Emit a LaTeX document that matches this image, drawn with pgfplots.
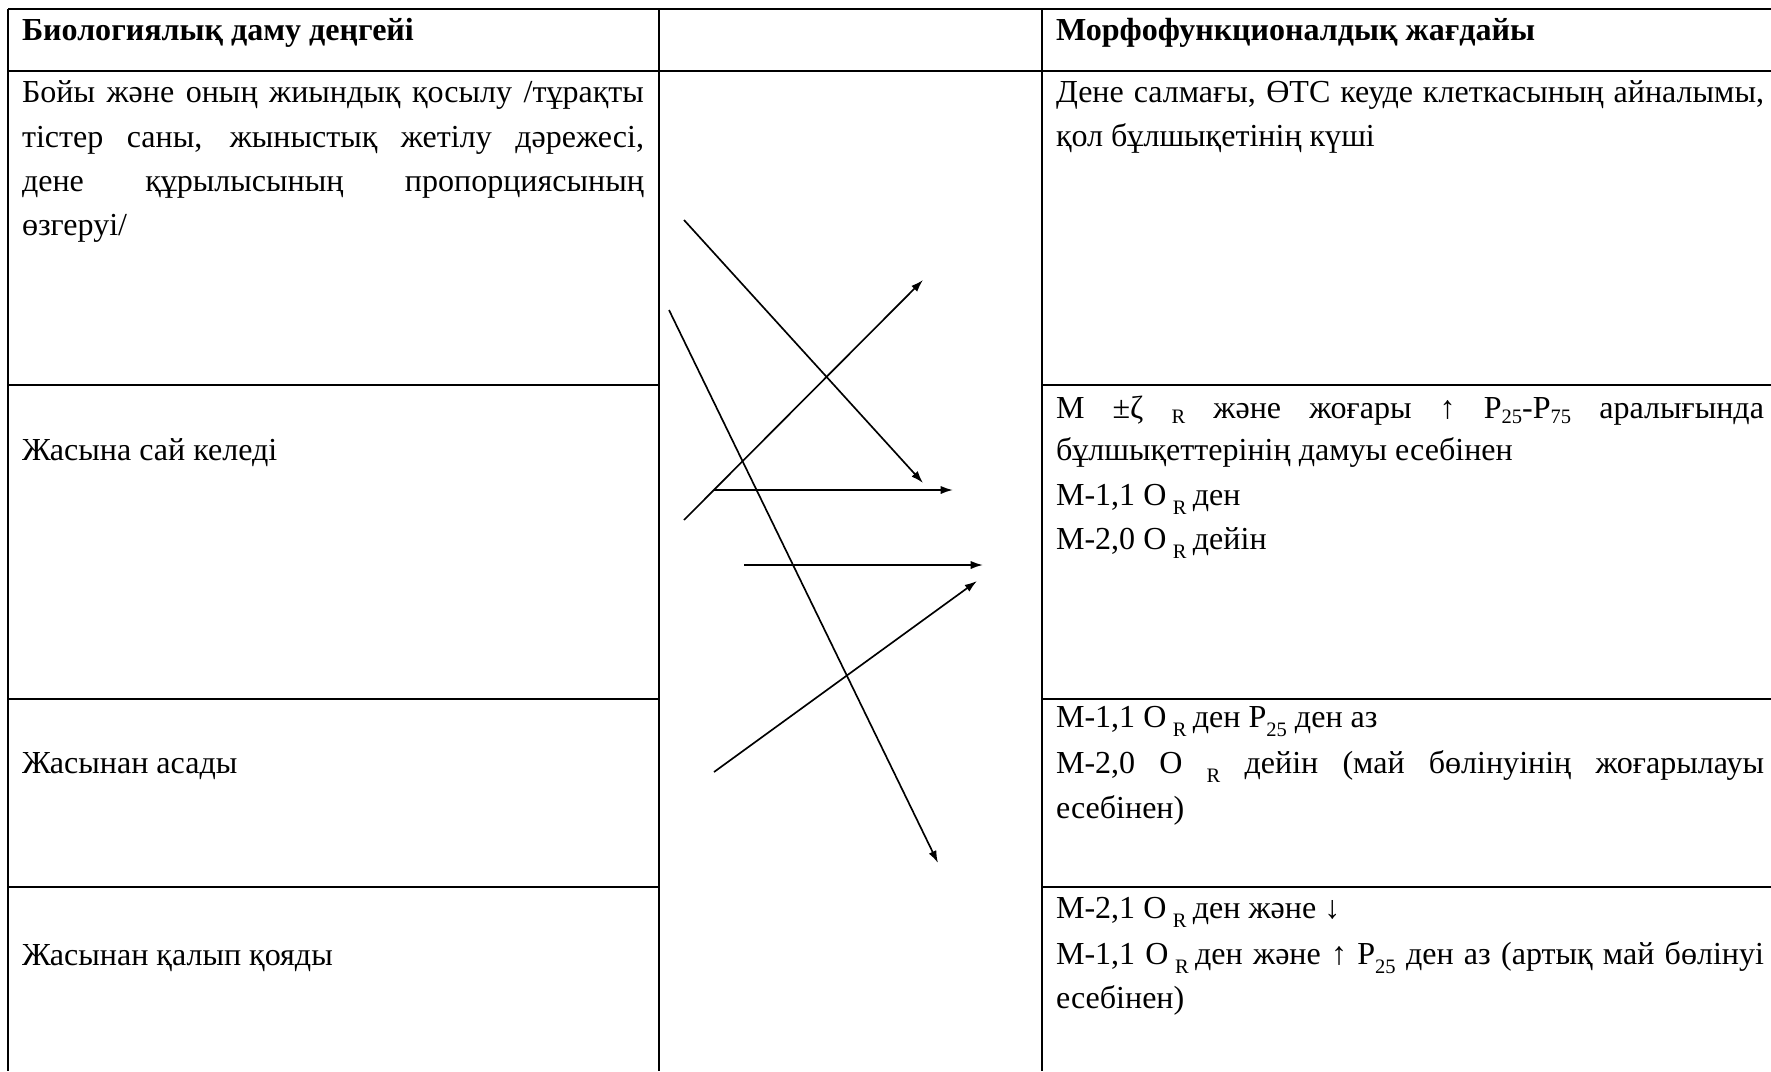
\documentclass[border=0pt]{standalone}
\usepackage{pgfplots}
\pgfplotsset{compat=1.18}
\usetikzlibrary{arrows.meta}
\usepackage{fontspec}
\setmainfont{Liberation Serif}
\newdimen\px \px=0.39pt
\newcommand{\sub}[1]{\raisebox{-3.6pt}{\fontsize{8}{9}\selectfont #1}}
\newcommand{\subb}[1]{\raisebox{-2pt}{\fontsize{8}{9}\selectfont #1}}
\newcommand{\OR}{О\hspace{2.5pt}\sub{R}\hspace{2.5pt}}
\tikzset{t/.style={font=\fontsize{12.5}{14}\selectfont, inner sep=0pt, outer sep=0pt, anchor=base west}}
\begin{document}
\begin{tikzpicture}
\begin{axis}[width=1771\px, height=1071\px, scale only axis,
  xmin=0, xmax=1771, ymin=0, ymax=1071, y dir=reverse,
  hide axis, clip=false]
% table rules
\addplot[black, line width=0.85pt] coordinates {(8,9) (1771,9)};
\addplot[black, line width=0.85pt] coordinates {(8,71) (1771,71)};
\addplot[black, line width=0.85pt] coordinates {(8,9) (8,1071)};
\addplot[black, line width=0.85pt] coordinates {(659,9) (659,1071)};
\addplot[black, line width=0.85pt] coordinates {(1042,9) (1042,1071)};
\addplot[black, line width=0.85pt] coordinates {(8,385) (659,385)};
\addplot[black, line width=0.85pt] coordinates {(8,699) (659,699)};
\addplot[black, line width=0.85pt] coordinates {(8,887) (659,887)};
\addplot[black, line width=0.85pt] coordinates {(1042,385) (1771,385)};
\addplot[black, line width=0.85pt] coordinates {(1042,699) (1771,699)};
\addplot[black, line width=0.85pt] coordinates {(1042,887) (1771,887)};
% arrows
\addplot[black, line width=0.65pt, -{Latex[length=4.8pt,width=3.2pt]}] coordinates {(684,220) (923,483)};
\addplot[black, line width=0.65pt, -{Latex[length=4.8pt,width=3.2pt]}] coordinates {(684,520) (923,280)};
\addplot[black, line width=0.65pt, -{Latex[length=4.8pt,width=3.2pt]}] coordinates {(669,310) (938,863)};
\addplot[black, line width=0.65pt, -{Latex[length=4.8pt,width=3.2pt]}] coordinates {(714,490) (953,490)};
\addplot[black, line width=0.65pt, -{Latex[length=4.8pt,width=3.2pt]}] coordinates {(744,565) (983,565)};
\addplot[black, line width=0.65pt, -{Latex[length=4.8pt,width=3.2pt]}] coordinates {(714,772) (977,581)};
% headers
\node[t] at (axis cs:22,40) {\bfseries Биологиялық даму деңгейі};
\node[t] at (axis cs:1056,40) {\bfseries Морфофункционалдық жағдайы};
% row 1
\node[t] at (axis cs:22,102) {\makebox[622\px][s]{Бойы және оның жиындық қосылу /тұрақты}};
\node[t] at (axis cs:22,147) {\makebox[622\px][s]{тістер саны, жыныстық жетілу дәрежесі,}};
\node[t] at (axis cs:22,191) {\makebox[622\px][s]{дене құрылысының пропорциясының}};
\node[t] at (axis cs:22,235) {өзгеруі/};
\node[t] at (axis cs:1056,102) {\makebox[708\px][s]{Дене салмағы, ӨТС кеуде клеткасының айналымы,}};
\node[t] at (axis cs:1056,146) {қол бұлшықетінің күші};
% row 2
\node[t] at (axis cs:22,460) {Жасына сай келеді};
\node[t] at (axis cs:1056,418) {\makebox[708\px][s]{М ±ζ \subb{R} және жоғары ↑ P\subb{25}-P\subb{75} аралығында}};
\node[t] at (axis cs:1056,460) {бұлшықеттерінің дамуы есебінен};
\node[t] at (axis cs:1056,505) {М-1,1 \OR ден};
\node[t] at (axis cs:1056,549) {М-2,0 \OR дейін};
% row 3
\node[t] at (axis cs:22,773) {Жасынан асады};
\node[t] at (axis cs:1056,727) {М-1,1 \OR ден Р\sub{25} ден аз};
\node[t] at (axis cs:1056,773) {\makebox[708\px][s]{М-2,0 О \sub{R} дейін (май бөлінуінің жоғарылауы}};
\node[t] at (axis cs:1056,818) {есебінен)};
% row 4
\node[t] at (axis cs:22,965) {Жасынан қалып қояды};
\node[t] at (axis cs:1056,918) {М-2,1 \OR ден және ↓};
\node[t] at (axis cs:1056,964) {\makebox[708\px][s]{М-1,1 \OR ден және ↑ P\sub{25} ден аз (артық май бөлінуі}};
\node[t] at (axis cs:1056,1008) {есебінен)};
\end{axis}
\pgfresetboundingbox
\path[use as bounding box] (current axis.south west) rectangle (current axis.north east);
\end{tikzpicture}
\end{document}
